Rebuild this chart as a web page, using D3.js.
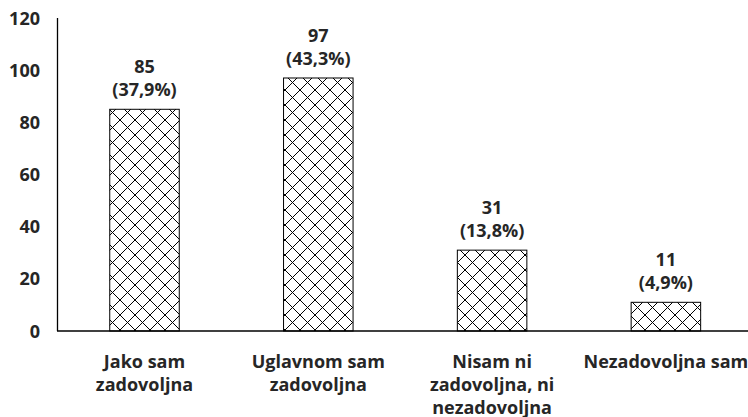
<!DOCTYPE html>
<html>
<head>
    <style>
        body { margin: 0; background: #fff; }
        text { font-family: "Open Sans", sans-serif; font-weight: 700; fill: #262626; }
    </style>
</head>
<body>
<div id="chart"></div>
<script src="https://d3js.org/d3.v7.min.js"></script>
<script>
    const categories = [
        ["Jako sam", "zadovoljna"],
        ["Uglavnom sam", "zadovoljna"],
        ["Nisam ni", "zadovoljna, ni", "nezadovoljna"],
        ["Nezadovoljna sam"]
    ];
    const counts = [85, 97, 31, 11];
    const percents = ["(37,9%)", "(43,3%)", "(13,8%)", "(4,9%)"];
    const yTicks = [0, 20, 40, 60, 80, 100, 120];

    const width = 748, height = 417;
    const svg = d3.select('#chart').append('svg')
        .attr('width', width)
        .attr('height', height);

    // crosshatch fill
    const pat = svg.append('defs').append('pattern')
        .attr('id', 'hatch')
        .attr('patternUnits', 'userSpaceOnUse')
        .attr('width', 15)
        .attr('height', 15);
    pat.append('rect').attr('width', 15).attr('height', 15).attr('fill', '#fff');
    pat.append('path')
        .attr('d', 'M0,0L15,15M15,0L0,15')
        .attr('stroke', '#000')
        .attr('stroke-width', 1.1)
        .attr('shape-rendering', 'crispEdges');

    const x = d3.scaleBand()
        .domain(d3.range(categories.length))
        .range([57.6, 752.8])
        .paddingInner(0.6)
        .paddingOuter(0.3);

    const y = d3.scaleLinear()
        .domain([0, 120])
        .range([331, 18]);

    // y axis line + labels
    svg.append('line')
        .attr('x1', 57.5).attr('x2', 57.5)
        .attr('y1', y(120)).attr('y2', y(0))
        .attr('stroke', '#000').attr('stroke-width', 1.3);

    svg.selectAll('.ytick')
        .data(yTicks)
        .enter().append('text')
        .attr('class', 'ytick')
        .attr('x', 40)
        .attr('y', d => y(d) + 6.5)
        .attr('text-anchor', 'end')
        .attr('font-size', 18)
        .text(d => d);

    // bars
    svg.selectAll('.bar')
        .data(counts)
        .enter().append('rect')
        .attr('class', 'bar')
        .attr('x', (d, i) => x(i))
        .attr('y', d => y(d))
        .attr('width', x.bandwidth())
        .attr('height', d => y(0) - y(d))
        .attr('fill', 'url(#hatch)')
        .attr('stroke', '#000')
        .attr('stroke-width', 1);

    // x axis line
    svg.append('line')
        .attr('x1', 57).attr('x2', width)
        .attr('y1', y(0)).attr('y2', y(0))
        .attr('stroke', '#000').attr('stroke-width', 1.5);

    // value labels
    const vl = svg.selectAll('.val')
        .data(counts)
        .enter().append('text')
        .attr('class', 'val')
        .attr('text-anchor', 'middle')
        .attr('font-size', 18);
    vl.append('tspan')
        .attr('x', (d, i) => x(i) + x.bandwidth() / 2)
        .attr('y', d => y(d) - 36)
        .text(d => d);
    vl.append('tspan')
        .attr('x', (d, i) => x(i) + x.bandwidth() / 2)
        .attr('y', d => y(d) - 13)
        .text((d, i) => percents[i]);

    // category labels
    const cl = svg.selectAll('.cat')
        .data(categories)
        .enter().append('text')
        .attr('class', 'cat')
        .attr('text-anchor', 'middle')
        .attr('font-size', 18);
    cl.selectAll('tspan')
        .data((d, i) => d.map(s => ({ s, i })))
        .enter().append('tspan')
        .attr('x', d => x(d.i) + x.bandwidth() / 2)
        .attr('y', (d, j) => 368 + j * 23)
        .text(d => d.s);
</script>
</body>
</html>
